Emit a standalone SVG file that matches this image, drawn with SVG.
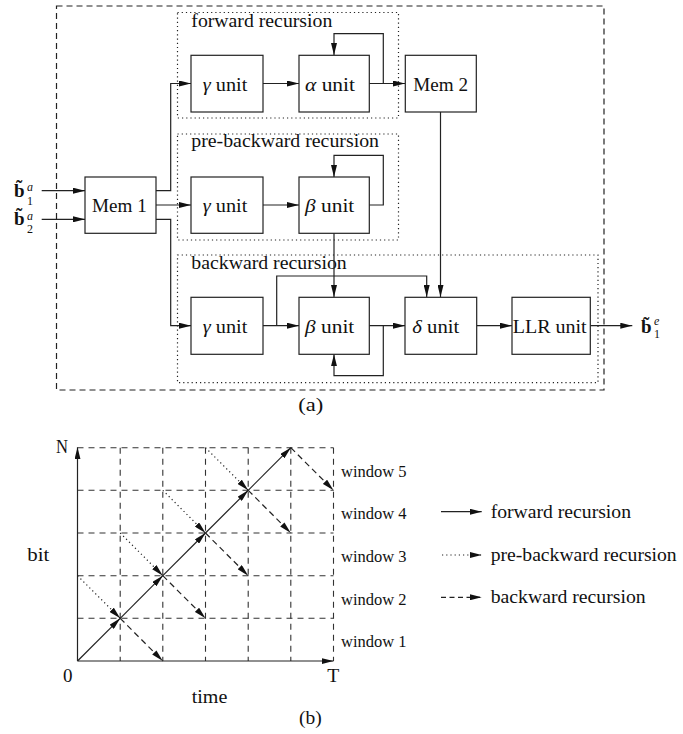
<svg xmlns="http://www.w3.org/2000/svg" width="683" height="734" viewBox="0 0 683 734">
<style>
.bg{fill:#fff}
.box{fill:#fff;stroke:#222;stroke-width:1.2}
.grp{fill:none;stroke:#222;stroke-width:1.2;stroke-dasharray:1.2 3}
.outer{fill:none;stroke:#222;stroke-width:1.2;stroke-dasharray:6 4}
.w{fill:none;stroke:#222;stroke-width:1.2}
.a{marker-end:url(#ah)}
.grid{fill:none;stroke:#333;stroke-width:1.1;stroke-dasharray:6 5}
.dot{stroke-dasharray:1.2 3}
.dash{stroke-dasharray:6 4}
.t{font-family:"Liberation Serif","Times New Roman",serif;font-size:19px;fill:#111}
.i{font-style:italic}
.bb{font-weight:bold}
.sm{font-size:12px}
.win{font-size:16.5px}
</style>
<defs>
<marker id="ah" viewBox="0 0 12 6" refX="12" refY="3" markerWidth="12" markerHeight="6" orient="auto" markerUnits="userSpaceOnUse">
<path d="M0,0 L12,3 L0,6 z" fill="#111"/>
</marker>
</defs>
<rect class="bg" x="0" y="0" width="683" height="734"/>

<!-- Part (a) -->
<g id="outer-box"><rect class="outer" x="56.5" y="6" width="547.5" height="384"/></g>
<g id="group-forward">
<rect class="grp" x="177.5" y="12.5" width="221" height="105.5"/>
<text class="t" x="191.3" y="26.7" textLength="141" lengthAdjust="spacingAndGlyphs">forward recursion</text>
</g>
<g id="group-prebackward">
<rect class="grp" x="177.5" y="134" width="221" height="106"/>
<text class="t" x="191.3" y="147.3" textLength="187.7" lengthAdjust="spacingAndGlyphs">pre-backward recursion</text>
</g>
<g id="group-backward">
<rect class="grp" x="177.5" y="255" width="420.5" height="127.7"/>
<text class="t" x="191.3" y="269" textLength="155.4" lengthAdjust="spacingAndGlyphs">backward recursion</text>
</g>

<g id="connectors">
<line class="w a" x1="41.7" y1="190.7" x2="85" y2="190.7"/>
<line class="w a" x1="41.7" y1="219.3" x2="85" y2="219.3"/>
<polyline class="w a" points="156,190.7 170.7,190.7 170.7,83.5 191,83.5"/>
<line class="w a" x1="156" y1="205" x2="191" y2="205"/>
<polyline class="w a" points="156,219.3 170.7,219.3 170.7,325.7 191,325.7"/>
<line class="w a" x1="263" y1="83.5" x2="299" y2="83.5"/>
<line class="w a" x1="369" y1="83.5" x2="405" y2="83.5"/>
<polyline class="w a" points="383.3,83.5 383.3,33.7 334,33.7 334,55"/>
<line class="w a" x1="263" y1="205" x2="299" y2="205"/>
<polyline class="w a" points="369,205 383.3,205 383.3,155.3 334,155.3 334,177"/>
<line class="w a" x1="334" y1="233" x2="334" y2="297"/>
<line class="w a" x1="440.5" y1="112" x2="440.5" y2="297"/>
<line class="w a" x1="263" y1="325.7" x2="299" y2="325.7"/>
<polyline class="w a" points="276.7,325.7 276.7,276 426.7,276 426.7,297"/>
<line class="w a" x1="369" y1="325.7" x2="405" y2="325.7"/>
<polyline class="w a" points="383.3,325.7 383.3,375.7 334,375.7 334,354.3"/>
<line class="w a" x1="476.7" y1="325.7" x2="512" y2="325.7"/>
<line class="w a" x1="590.3" y1="325.7" x2="632.3" y2="325.7"/>
</g>

<g id="mem1">
<rect class="box" x="85" y="177" width="71" height="56.3"/>
<text class="t" x="92" y="212.3" textLength="54.7" lengthAdjust="spacingAndGlyphs">Mem 1</text>
</g>
<g id="fwd-gamma">
<rect class="box" x="191" y="55.3" width="72" height="56.7"/>
<text class="t" x="202.7" y="90.7" textLength="44.6" lengthAdjust="spacingAndGlyphs"><tspan class="i">γ</tspan> unit</text>
</g>
<g id="fwd-alpha">
<rect class="box" x="299" y="55.3" width="70.3" height="56.7"/>
<text class="t" x="305" y="90.7" textLength="50" lengthAdjust="spacingAndGlyphs"><tspan class="i">α</tspan> unit</text>
</g>
<g id="mem2">
<rect class="box" x="405.3" y="55.3" width="71" height="56.7"/>
<text class="t" x="413.3" y="90.7" textLength="54.7" lengthAdjust="spacingAndGlyphs">Mem 2</text>
</g>
<g id="pre-gamma">
<rect class="box" x="191" y="177" width="72" height="56.3"/>
<text class="t" x="202.7" y="212.3" textLength="44.6" lengthAdjust="spacingAndGlyphs"><tspan class="i">γ</tspan> unit</text>
</g>
<g id="pre-beta">
<rect class="box" x="299" y="177" width="70.3" height="56.3"/>
<text class="t" x="305" y="212.3" textLength="49.3" lengthAdjust="spacingAndGlyphs"><tspan class="i">β</tspan> unit</text>
</g>
<g id="bwd-gamma">
<rect class="box" x="191" y="297.3" width="72" height="57"/>
<text class="t" x="202.7" y="332.7" textLength="44.6" lengthAdjust="spacingAndGlyphs"><tspan class="i">γ</tspan> unit</text>
</g>
<g id="bwd-beta">
<rect class="box" x="299" y="297.3" width="70.3" height="57"/>
<text class="t" x="305" y="332.7" textLength="49.3" lengthAdjust="spacingAndGlyphs"><tspan class="i">β</tspan> unit</text>
</g>
<g id="delta">
<rect class="box" x="405" y="297.3" width="71.7" height="57"/>
<text class="t" x="412.3" y="332.7" textLength="47" lengthAdjust="spacingAndGlyphs"><tspan class="i">δ</tspan> unit</text>
</g>
<g id="llr">
<rect class="box" x="512" y="297.3" width="78.3" height="57"/>
<text class="t" x="512.7" y="332.7" textLength="74" lengthAdjust="spacingAndGlyphs">LLR unit</text>
</g>

<g id="in-b1a">
<text class="t" x="14" y="196.5"><tspan class="bb">b̃</tspan><tspan class="i sm" x="27" y="191">a</tspan><tspan class="sm" x="27" y="204.5">1</tspan></text>
</g>
<g id="in-b2a">
<text class="t" x="14" y="225.1"><tspan class="bb">b̃</tspan><tspan class="i sm" x="27" y="219.6">a</tspan><tspan class="sm" x="27" y="233.1">2</tspan></text>
</g>
<g id="out-b1e">
<text class="t" x="641" y="333.3"><tspan class="bb">b̃</tspan><tspan class="i sm" x="654" y="324.5">e</tspan><tspan class="sm" x="654" y="338.2">1</tspan></text>
</g>
<text class="t" x="298.3" y="410.5" textLength="25" lengthAdjust="spacingAndGlyphs">(a)</text>

<!-- Part (b) -->
<g id="grid">
<path class="grid" d="M77.5,447.7 H333.5 M77.5,490.3 H333.5 M77.5,533 H333.5 M77.5,575.7 H333.5 M77.5,618.3 H333.5"/>
<path class="grid" d="M120.2,447.7 V661 M162.8,447.7 V661 M205.5,447.7 V661 M248.2,447.7 V661 M290.8,447.7 V661 M333.5,447.7 V661"/>
</g>
<g id="axes">
<line class="w a" x1="77.5" y1="661" x2="77.5" y2="447.3"/>
<line class="w a" x1="77.5" y1="661" x2="333.5" y2="661"/>
<text class="t" x="56" y="453.3" textLength="12" lengthAdjust="spacingAndGlyphs">N</text>
<text class="t" x="63" y="681.7">0</text>
<text class="t" x="327.3" y="681.7" textLength="12" lengthAdjust="spacingAndGlyphs">T</text>
<text class="t" x="27.3" y="560.7" textLength="22" lengthAdjust="spacingAndGlyphs">bit</text>
<text class="t" x="191.7" y="702.7" textLength="35.6" lengthAdjust="spacingAndGlyphs">time</text>
</g>
<g id="recursions">
<line class="w a" x1="77.5" y1="661" x2="120.2" y2="618.3"/>
<line class="w a" x1="120.2" y1="618.3" x2="162.8" y2="575.7"/>
<line class="w a" x1="162.8" y1="575.7" x2="205.5" y2="533"/>
<line class="w a" x1="205.5" y1="533" x2="248.2" y2="490.3"/>
<line class="w a" x1="248.2" y1="490.3" x2="290.8" y2="447.7"/>
<line class="w a dot" x1="77.5" y1="575.7" x2="120.2" y2="618.3"/>
<line class="w a dot" x1="120.2" y1="533" x2="162.8" y2="575.7"/>
<line class="w a dot" x1="162.8" y1="490.3" x2="205.5" y2="533"/>
<line class="w a dot" x1="205.5" y1="447.7" x2="248.2" y2="490.3"/>
<line class="w a dash" x1="120.2" y1="618.3" x2="162.8" y2="661"/>
<line class="w a dash" x1="162.8" y1="575.7" x2="205.5" y2="618.3"/>
<line class="w a dash" x1="205.5" y1="533" x2="248.2" y2="575.7"/>
<line class="w a dash" x1="248.2" y1="490.3" x2="290.8" y2="533"/>
<line class="w a dash" x1="290.8" y1="447.7" x2="333.5" y2="490.3"/>
</g>
<g id="windows">
<text class="t win" x="341" y="476.5">window 5</text>
<text class="t win" x="341" y="519.2">window 4</text>
<text class="t win" x="341" y="561.8">window 3</text>
<text class="t win" x="341" y="604.5">window 2</text>
<text class="t win" x="341" y="647">window 1</text>
</g>
<g id="legend">
<line class="w a" x1="441" y1="511.7" x2="481.7" y2="511.7"/>
<line class="w a dot" x1="442" y1="555" x2="481.7" y2="555"/>
<line class="w a" style="stroke-dasharray:5 3.5" x1="441" y1="597.3" x2="481.7" y2="597.3"/>
<text class="t" x="490.7" y="517.7" textLength="140.3" lengthAdjust="spacingAndGlyphs">forward recursion</text>
<text class="t" x="490.7" y="561" textLength="186" lengthAdjust="spacingAndGlyphs">pre-backward recursion</text>
<text class="t" x="490.7" y="603.3" textLength="155" lengthAdjust="spacingAndGlyphs">backward recursion</text>
</g>
<text class="t" x="299" y="724" textLength="22.7" lengthAdjust="spacingAndGlyphs">(b)</text>
</svg>
